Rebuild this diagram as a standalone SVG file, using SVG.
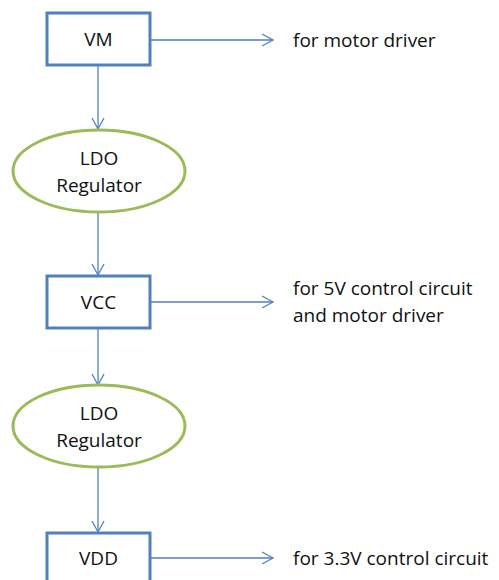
<svg xmlns="http://www.w3.org/2000/svg" width="499" height="580" viewBox="0 0 499 580">
<style>
.box{fill:#fff;stroke:#4f81bd;stroke-width:3}
.ell{fill:#fff;stroke:#9bbb59;stroke-width:3}
.ln{fill:none;stroke:#4f81bd;stroke-width:1.3}
.ah{fill:none;stroke:#4f81bd;stroke-width:1.3}
text{font-family:"Open Sans","Liberation Sans",Arial,sans-serif;font-size:19px;fill:#111}
.c{text-anchor:middle}
</style>
<rect width="499" height="580" fill="#fff"/>
<g id="connectors">
<line class="ln" x1="98" y1="65" x2="98" y2="129"/>
<polyline class="ah" points="92,118 98,129 104,118"/>
<line class="ln" x1="98" y1="212" x2="98" y2="275"/>
<polyline class="ah" points="92,264 98,275 104,264"/>
<line class="ln" x1="98" y1="328" x2="98" y2="385"/>
<polyline class="ah" points="92,374 98,385 104,374"/>
<line class="ln" x1="98" y1="467" x2="98" y2="532"/>
<polyline class="ah" points="92,521 98,532 104,521"/>
<line class="ln" x1="150" y1="40" x2="273" y2="40"/>
<polyline class="ah" points="262,34 273,40 262,46"/>
<line class="ln" x1="150" y1="302" x2="273" y2="302"/>
<polyline class="ah" points="262,296 273,302 262,308"/>
<line class="ln" x1="150" y1="558" x2="273" y2="558"/>
<polyline class="ah" points="262,552 273,558 262,564"/>
</g>
<g id="vm"><rect class="box" x="47" y="13" width="103" height="52"/><text class="c" x="98.5" y="46">VM</text></g>
<g id="ldo1"><ellipse class="ell" cx="99" cy="171" rx="86" ry="41"/><text class="c" x="99" y="165">LDO</text><text class="c" x="99" y="192">Regulator</text></g>
<g id="vcc"><rect class="box" x="47" y="276" width="103" height="52"/><text class="c" x="98.5" y="309">VCC</text></g>
<g id="ldo2"><ellipse class="ell" cx="99" cy="426" rx="86" ry="41"/><text class="c" x="99" y="420">LDO</text><text class="c" x="99" y="447">Regulator</text></g>
<g id="vdd"><rect class="box" x="47" y="533" width="103" height="52"/><text class="c" x="98.5" y="565">VDD</text></g>
<g id="labels">
<text x="293" y="47">for motor driver</text>
<text x="293" y="295">for 5V control circuit</text>
<text x="293" y="322">and motor driver</text>
<text x="293" y="565">for 3.3V control circuit</text>
</g>
</svg>
